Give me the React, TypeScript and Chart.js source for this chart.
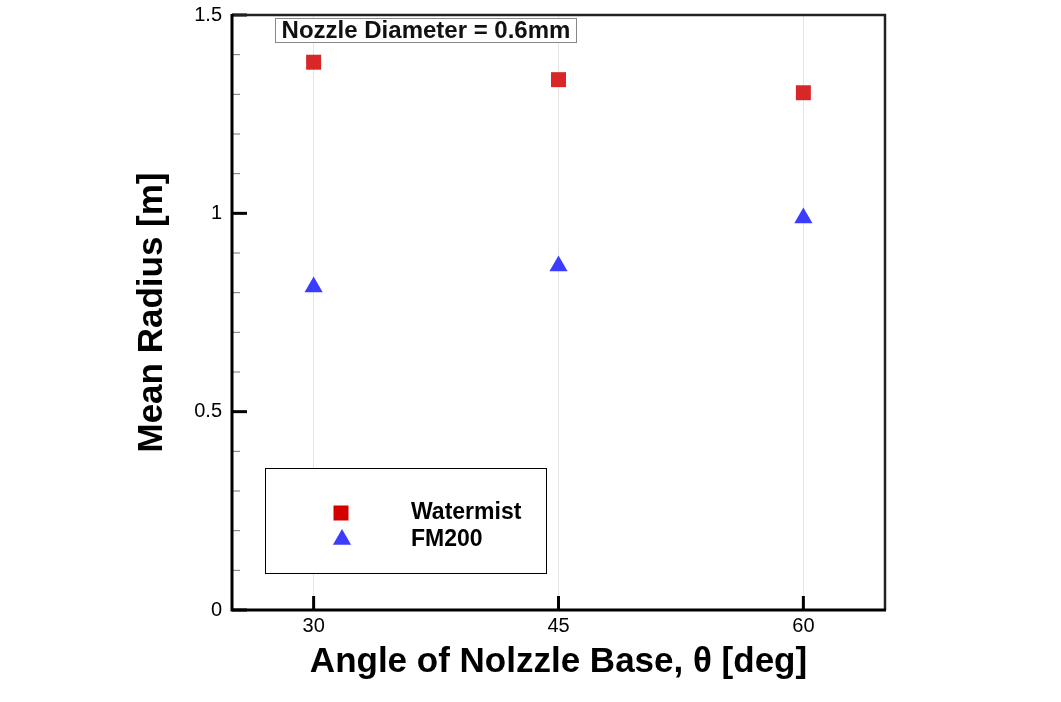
import React, { useEffect, useRef } from 'react';
import { Chart, registerables } from 'chart.js';

Chart.register(...registerables);

const angles = [30, 45, 60];
const watermist = [1.381, 1.337, 1.304];
const fm200 = [0.814, 0.867, 0.988];
const xTickValues = [30, 45, 60];
const yLabelValues = [0, 0.5, 1, 1.5];
const seriesNames = ['Watermist', 'FM200'];
const noteText = 'Nozzle Diameter = 0.6mm';
const xTitle = 'Angle of Nolzzle Base, \u03b8 [deg]';
const yTitle = 'Mean Radius [m]';

const RED = '#d92626';
const BLUE = '#3c3cff';
const FONT = "'Liberation Sans', Arial, Helvetica, sans-serif";

const isMajor = (v: number) => yLabelValues.some((m) => Math.abs(m - v) < 1e-6);

function drawSquare(ctx: CanvasRenderingContext2D, x: number, y: number, s: number, c: string) {
  ctx.fillStyle = c;
  ctx.fillRect(x - s / 2, y - s / 2, s, s);
}
function drawTri(ctx: CanvasRenderingContext2D, x: number, y: number, r: number, c: string) {
  ctx.fillStyle = c;
  ctx.beginPath();
  ctx.moveTo(x, y - r);
  ctx.lineTo(x + r * Math.sin(Math.PI / 3), y + r / 2);
  ctx.lineTo(x - r * Math.sin(Math.PI / 3), y + r / 2);
  ctx.closePath();
  ctx.fill();
}

const framePlugin = {
  id: 'framePlugin',
  afterDatasetsDraw(chart: any) {
    const { ctx, chartArea: a, scales } = chart;
    const xs = scales.x;
    const ys = scales.y;
    ctx.save();
    // y ticks (inward)
    ys.ticks.forEach((t: any) => {
      const py = ys.getPixelForValue(t.value);
      const major = isMajor(t.value);
      ctx.beginPath();
      ctx.strokeStyle = major ? '#000' : '#777';
      ctx.lineWidth = major ? 3 : 1;
      ctx.moveTo(a.left, py);
      ctx.lineTo(a.left + (major ? 15 : 8), py);
      ctx.stroke();
    });
    // x ticks (inward)
    xs.ticks.forEach((t: any) => {
      const px = xs.getPixelForValue(t.value);
      ctx.beginPath();
      ctx.strokeStyle = '#000';
      ctx.lineWidth = 3;
      ctx.moveTo(px, a.bottom);
      ctx.lineTo(px, a.bottom - 14);
      ctx.stroke();
    });
    // top/right frame
    ctx.strokeStyle = '#222';
    ctx.lineWidth = 2.5;
    ctx.beginPath();
    ctx.moveTo(a.left, a.top);
    ctx.lineTo(a.right, a.top);
    ctx.lineTo(a.right, a.bottom);
    ctx.stroke();
    // left/bottom axes
    ctx.strokeStyle = '#000';
    ctx.lineWidth = 3;
    ctx.beginPath();
    ctx.moveTo(a.left, a.top - 1);
    ctx.lineTo(a.left, a.bottom);
    ctx.lineTo(a.right + 1, a.bottom);
    ctx.stroke();

    // annotation box
    const bx = a.left + 43.5, by = a.top + 3.5, bw = 301, bh = 24;
    ctx.fillStyle = '#fff';
    ctx.fillRect(bx, by, bw, bh);
    ctx.strokeStyle = '#888';
    ctx.lineWidth = 1;
    ctx.strokeRect(bx, by, bw, bh);
    ctx.fillStyle = '#111';
    ctx.font = `bold 24px ${FONT}`;
    ctx.textAlign = 'center';
    ctx.textBaseline = 'middle';
    ctx.fillText(noteText, bx + bw / 2, by + bh / 2 + 1);

    // legend box
    const lx = a.left + 33.5, ly = 468.5, lw = 281, lh = 105;
    ctx.fillStyle = '#fff';
    ctx.fillRect(lx, ly, lw, lh);
    ctx.strokeStyle = '#000';
    ctx.lineWidth = 1;
    ctx.strokeRect(lx, ly, lw, lh);
    const mx = lx + 75.5;
    drawSquare(ctx, mx, 513, 15, '#d40000');
    drawTri(ctx, mx + 1, 539.5, 10.5, BLUE);
    ctx.fillStyle = '#000';
    ctx.font = `bold 23px ${FONT}`;
    ctx.textAlign = 'left';
    ctx.textBaseline = 'middle';
    ctx.fillText(seriesNames[0], lx + 145.5, 513);
    ctx.fillText(seriesNames[1], lx + 145.5, 540);
    ctx.restore();
  },
};

export default function App() {
  const ref = useRef<HTMLCanvasElement | null>(null);
  useEffect(() => {
    if (!ref.current) return;
    Chart.defaults.font.family = FONT;
    const chart = new Chart(ref.current, {
      type: 'scatter',
      data: {
        datasets: [
          {
            label: seriesNames[0],
            data: angles.map((x, i) => ({ x, y: watermist[i] })),
            pointStyle: 'rect',
            pointRadius: 10.6,
            pointHoverRadius: 10.6,
            backgroundColor: RED,
            borderWidth: 0,
          },
          {
            label: seriesNames[1],
            data: angles.map((x, i) => ({ x, y: fm200[i] })),
            pointStyle: 'triangle',
            pointRadius: 10.5,
            pointHoverRadius: 10.5,
            backgroundColor: BLUE,
            borderWidth: 0,
          },
        ],
      },
      options: {
        animation: false,
        responsive: false,
        devicePixelRatio: 1,
        layout: { padding: { left: 0, top: 15, right: 176, bottom: 0 } },
        plugins: { legend: { display: false }, tooltip: { enabled: false } },
        scales: {
          x: {
            type: 'linear',
            min: 25,
            max: 65,
            afterBuildTicks: (s: any) => {
              s.ticks = xTickValues.map((v) => ({ value: v }));
            },
            afterFit: (s: any) => {
              s.height = 92;
              s.paddingLeft = 0;
              s.paddingRight = 0;
            },
            grid: { color: '#e4e4e4', lineWidth: 1, drawTicks: false },
            border: { display: false },
            ticks: {
              color: '#000',
              font: { size: 20 },
              padding: 4,
              autoSkip: false,
              maxRotation: 0,
            },
            title: {
              display: true,
              text: xTitle,
              color: '#000',
              font: { size: 35, weight: 'bold' },
              padding: { top: 0, bottom: 19 },
            },
          },
          y: {
            type: 'linear',
            min: 0,
            max: 1.5,
            afterFit: (s: any) => {
              s.width = 232;
              s.paddingTop = 0;
              s.paddingBottom = 0;
            },
            grid: { display: false, drawTicks: false },
            border: { display: false },
            ticks: {
              stepSize: 0.1,
              autoSkip: false,
              color: '#000',
              font: { size: 20 },
              padding: 10,
              callback: (v: any) => (isMajor(Number(v)) ? String(+Number(v).toFixed(1)) : ''),
            },
            title: {
              display: true,
              text: yTitle,
              color: '#000',
              font: { size: 35, weight: 'bold' },
              padding: { top: 131, bottom: 0 },
            },
          },
        },
      },
      plugins: [framePlugin],
    });
    return () => chart.destroy();
  }, []);
  return (
    <div style={{ position: 'fixed', left: 0, top: 0, width: 1061, height: 702, background: '#fff' }}>
      <canvas ref={ref} width={1061} height={702} style={{ display: 'block' }} />
    </div>
  );
}
